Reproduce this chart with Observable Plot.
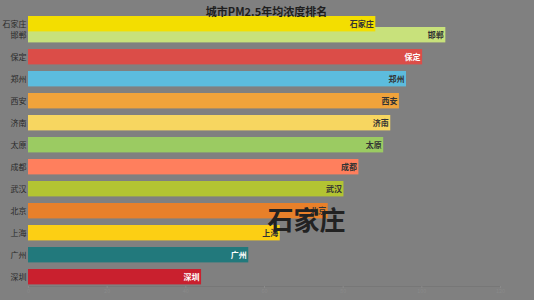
<!DOCTYPE html>
<html>
<head>
<meta charset="utf-8">
<script src="https://cdn.jsdelivr.net/npm/d3@7"></script>
<script src="https://cdn.jsdelivr.net/npm/@observablehq/plot@0.6"></script>
<style>
  html, body { margin: 0; padding: 0; background: #808080; }
  #chart svg { display: block; }
</style>
</head>
<body>
<div id="chart"></div>
<script>
const title = "城市PM2.5年均浓度排名";
const currentCity = "石家庄";
const cities = ["石家庄","邯郸","保定","郑州","西安","济南","太原","成都","武汉","北京","上海","广州","深圳"];
const values = [88.3, 106.1, 100.2, 96.1, 94.3, 92.1, 90.3, 84.0, 80.2, 76.2, 64.0, 56.0, 44.0];
const ranks  = [0.5, 1, 2, 3, 4, 5, 6, 7, 8, 9, 10, 11, 12];
const xTicks = [0, 20, 40, 60, 80, 100, 120];

const palette = ["#f3de00","#c8e17b","#db4d48","#5cbcde","#f0a33b","#f7d660","#9bcb62","#ff7f5d","#b3c432","#e8802a","#fccf14","#22797c","#c9202e"];
const labelInk = ["#333","#333","#fff","#333","#333","#333","#333","#333","#333","#333","#333","#fff","#fff"];

const rows = cities.map((c, i) => ({city: c, value: values[i], rank: ranks[i], color: palette[i], ink: labelInk[i]}));
const drawOrder = rows.slice().reverse();

const font = "'Noto Sans CJK SC', 'Noto Sans', sans-serif";

const chart = Plot.plot({
  width: 534,
  height: 300,
  marginLeft: 28,
  marginRight: 34,
  marginTop: 0,
  marginBottom: 14,
  style: {background: "#808080", fontFamily: font},
  x: {domain: [0, 120], ticks: xTicks},
  y: {domain: [0, 13], range: [5, 291], axis: null},
  marks: [
    Plot.frame({anchor: "bottom", stroke: "#777", strokeWidth: 1}),
    Plot.axisX({ticks: xTicks, tickSize: 2, stroke: "#8a8a8a", fill: "#8a8a8a", fontSize: 5.5, tickPadding: 1, label: null}),
    Plot.rect(drawOrder, {x1: 0, x2: "value", y1: "rank", y2: d => d.rank + 0.7, fill: "color"}),
    Plot.text(rows, {x: 0, y: d => d.rank + 0.36, text: "city", textAnchor: "end", dx: -2, fontSize: 8, fill: "#2a2a2a"}),
    Plot.text(rows, {x: "value", y: d => d.rank + 0.36, text: "city", textAnchor: "end", dx: -2, fontSize: 8, fontWeight: "bold", fill: "ink"}),
    Plot.text([currentCity], {frameAnchor: "middle", dx: 42, dy: 78, fontSize: 26, fontWeight: "bold", fill: "#222"}),
    Plot.text([title], {frameAnchor: "top", dx: 2, dy: 8, fontSize: 11, fontWeight: "bold", fill: "#1e1e1e"})
  ]
});
document.getElementById("chart").appendChild(chart);
</script>
</body>
</html>
